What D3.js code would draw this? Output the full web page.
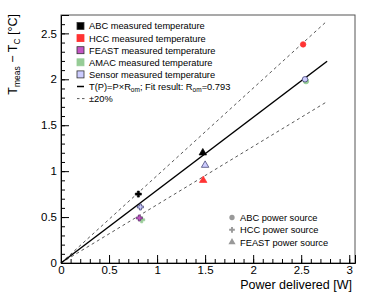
<!DOCTYPE html>
<html>
<head>
<meta charset="utf-8">
<script src="https://cdn.jsdelivr.net/npm/d3@7"></script>
<style>
  body { margin: 0; background: #fff; }
  svg { font-family: "Liberation Sans", Arial, sans-serif; }
</style>
</head>
<body>
<div id="chart"></div>
<script>
// measured temperatures, grouped by which chip was powered
const sensorNames = ['ABC', 'HCC', 'FEAST', 'AMAC', 'Sensor'];
const sourceNames = ['ABC', 'HCC', 'FEAST'];

const pointSource = ['ABC', 'ABC', 'ABC', 'HCC', 'HCC', 'HCC', 'HCC', 'FEAST', 'FEAST', 'FEAST'];
const pointSensor = ['AMAC', 'Sensor', 'HCC', 'ABC', 'Sensor', 'AMAC', 'FEAST', 'ABC', 'Sensor', 'HCC'];
const pointPower  = [2.55, 2.54, 2.52, 0.805, 0.826, 0.84, 0.815, 1.476, 1.50, 1.48];
const pointDeltaT = [1.98, 2.00, 2.38, 0.75, 0.61, 0.47, 0.49, 1.20, 1.065, 0.90];

const fitR = 0.793;
const fitRange = [0, 2.77];
const band = 0.2;

const xMajor = [0, 0.5, 1, 1.5, 2, 2.5, 3];
const yMajor = [0, 0.5, 1, 1.5, 2, 2.5];

const W = 374, H = 296;
const svg = d3.select('#chart').append('svg').attr('width', W).attr('height', H);

const fillOf = { ABC: '#000000', HCC: '#ff3333', FEAST: '#c455c4', AMAC: '#96cc96', Sensor: '#ccccff' };
const strokeOf = { ABC: '#000000', HCC: '#ff3333', FEAST: '#5a2a6a', AMAC: '#96cc96', Sensor: '#333366' };
const shapeOf = { ABC: d3.symbolCircle, HCC: d3.symbolCross, FEAST: d3.symbolTriangle };

const x = d3.scaleLinear().domain([0, 3.06]).range([61, 355]);
const y = d3.scaleLinear().domain([0, 2.7]).range([263, 15]);

// frame
svg.append('rect')
  .attr('x', x(0)).attr('y', y(2.7))
  .attr('width', x(3.06) - x(0)).attr('height', y(0) - y(2.7))
  .attr('fill', 'none').attr('stroke', '#555').attr('stroke-width', 1);

// minor ticks
svg.append('g').attr('transform', `translate(0,${y(0)})`)
  .call(d3.axisBottom(x).tickValues(d3.range(0, 3.05, 0.1)).tickSize(-4).tickFormat(''))
  .call(g => g.select('.domain').remove());
svg.append('g').attr('transform', `translate(${x(0)},0)`)
  .call(d3.axisLeft(y).tickValues(d3.range(0, 2.65, 0.1)).tickSize(-4).tickFormat(''))
  .call(g => g.select('.domain').remove());

// major ticks
const xAxis = svg.append('g').attr('transform', `translate(0,${y(0)})`)
  .call(d3.axisBottom(x).tickValues(xMajor).tickSize(-8).tickPadding(3).tickFormat(d3.format('')));
const yAxis = svg.append('g').attr('transform', `translate(${x(0)},0)`)
  .call(d3.axisLeft(y).tickValues(yMajor).tickSize(-8).tickPadding(4).tickFormat(d3.format('')));
yAxis.selectAll('text').attr('x', -4);
[xAxis, yAxis].forEach(g => {
  g.attr('font-family', null).attr('font-size', 11.5);
  g.selectAll('text').attr('fill', '#000');
  g.select('.domain').attr('stroke', '#000');
});
svg.selectAll('g.tick line').attr('stroke', '#000');

// fit line and +-20% band
const fitLine = d3.line().x(d => x(d[0])).y(d => y(d[1]));
[1 + band, 1 - band].forEach(k => {
  svg.append('path')
    .attr('d', fitLine(fitRange.map(p => [p, p * fitR * k])))
    .attr('fill', 'none').attr('stroke', '#444').attr('stroke-width', 0.9)
    .attr('stroke-dasharray', '3,3');
});
svg.append('path')
  .attr('d', fitLine(fitRange.map(p => [p, p * fitR])))
  .attr('fill', 'none').attr('stroke', '#000').attr('stroke-width', 1.5);

// points
svg.append('g').selectAll('path')
  .data(pointPower.map((p, i) => ({ p, t: pointDeltaT[i], src: pointSource[i], sen: pointSensor[i] })))
  .join('path')
  .attr('transform', d => `translate(${x(d.p)},${y(d.t)})`)
  .attr('d', d => d3.symbol().type(shapeOf[d.src]).size(d.src === 'HCC' ? 20 : 24)())
  .attr('fill', d => fillOf[d.sen])
  .attr('stroke', d => strokeOf[d.sen])
  .attr('stroke-width', 0.7);

// sensor legend
const leg = svg.append('g').attr('font-size', 9.3);
sensorNames.forEach((s, i) => {
  const cy = 26 + i * 12.1;
  leg.append('rect').attr('x', 77).attr('y', cy - 3.5).attr('width', 7).attr('height', 7)
    .attr('fill', fillOf[s]).attr('stroke', s === 'HCC' || s === 'AMAC' ? fillOf[s] : '#333').attr('stroke-width', 0.8);
  leg.append('text').attr('x', 89).attr('y', cy + 3.4).text(s + ' measured temperature');
});
const fy = 26 + 5 * 12.1;
leg.append('line').attr('x1', 77).attr('x2', 84).attr('y1', fy).attr('y2', fy)
  .attr('stroke', '#000').attr('stroke-width', 1.5);
const ft = leg.append('text').attr('x', 89).attr('y', fy + 3.4);
ft.append('tspan').text('T(P)=P\u00d7R');
ft.append('tspan').attr('font-size', 6.5).attr('dy', 2).text('om');
ft.append('tspan').attr('dy', -2).text('; Fit result: R');
ft.append('tspan').attr('font-size', 6.5).attr('dy', 2).text('om');
ft.append('tspan').attr('dy', -2).text('=' + fitR);
const dy2 = fy + 12.1;
leg.append('line').attr('x1', 77).attr('x2', 85).attr('y1', dy2).attr('y2', dy2)
  .attr('stroke', '#444').attr('stroke-width', 0.9).attr('stroke-dasharray', '2.5,2.5');
leg.append('text').attr('x', 89).attr('y', dy2 + 3.4).text('\u00b1' + band * 100 + '%');

// power source legend
const leg2 = svg.append('g').attr('font-size', 9.3);
sourceNames.forEach((s, i) => {
  const cy = 217.5 + i * 12.3;
  leg2.append('path').attr('transform', `translate(232,${cy})`)
    .attr('d', d3.symbol().type(shapeOf[s]).size(s === 'HCC' ? 18 : 22)())
    .attr('fill', '#999');
  leg2.append('text').attr('x', 240).attr('y', cy + 3.4).text(s + ' power source');
});

// axis titles
svg.append('text').attr('x', 352).attr('y', 289).attr('text-anchor', 'end')
  .attr('font-size', 12.5).text('Power delivered [W]');
const yt = svg.append('text').attr('transform', 'translate(17,14) rotate(-90)')
  .attr('text-anchor', 'end').attr('font-size', 12.5);
yt.append('tspan').text('T');
yt.append('tspan').attr('font-size', 8.5).attr('dy', 3).text('meas');
yt.append('tspan').attr('dy', -3).text(' \u2212 T');
yt.append('tspan').attr('font-size', 8.5).attr('dy', 3).text('C');
yt.append('tspan').attr('dy', -3).text(' [\u00b0C]');
</script>
</body>
</html>
